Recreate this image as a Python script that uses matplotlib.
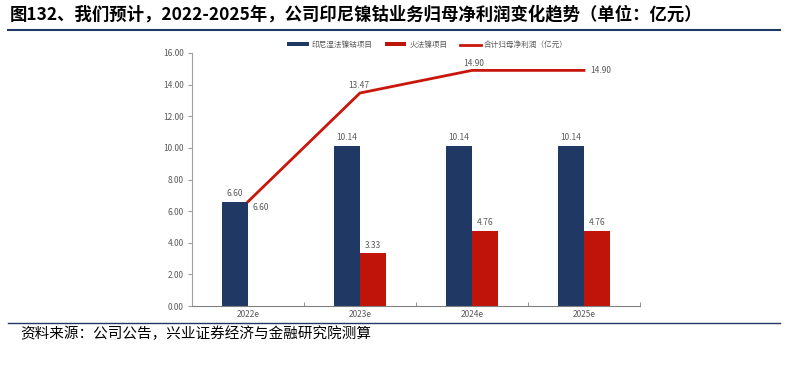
import matplotlib
matplotlib.use("Agg")
import matplotlib.pyplot as plt
import numpy as np

plt.rcParams['font.family'] = ['Noto Sans CJK SC', 'DejaVu Sans']

years = ["2022e", "2023e", "2024e", "2025e"]
wet_nickel = [6.60, 10.14, 10.14, 10.14]      # 印尼湿法镍钴项目
fire_nickel = [0, 3.33, 4.76, 4.76]           # 火法镍项目
total_profit = [6.60, 13.47, 14.90, 14.90]    # 合计归母净利润
y_ticks = [0, 2, 4, 6, 8, 10, 12, 14, 16]

navy = '#1F3864'
red_bar = '#C0140A'
red_line = '#C8160C'
gray = '#595959'

fig = plt.figure(figsize=(7.88, 3.65), dpi=100)
ax = fig.add_axes([192 / 788, 1 - 306 / 365, 448 / 788, 253 / 365])

x = np.arange(len(years))
w = 0.235
b1 = ax.bar(x - w / 2, wet_nickel, w, color=navy, label='印尼湿法镍钴项目', zorder=2)
b2 = ax.bar(x + w / 2, fire_nickel, w, color=red_bar, label='火法镍项目', zorder=2)
l1, = ax.plot(x, total_profit, color=red_line, lw=2, label='合计归母净利润（亿元）', zorder=3)

for i in range(len(years)):
    ax.annotate(f"{wet_nickel[i]:.2f}", (x[i] - w / 2, wet_nickel[i]), textcoords='offset points',
                xytext=(0, 6), ha='center', va='center', fontsize=6, color=gray)
    if fire_nickel[i] > 0:
        ax.annotate(f"{fire_nickel[i]:.2f}", (x[i] + w / 2, fire_nickel[i]), textcoords='offset points',
                    xytext=(0, 6), ha='center', va='center', fontsize=6, color=gray)

# line labels
offsets = [(9, -4), (-1, 5.5), (1, 5), (12, 0)]
for i, (dx, dy) in enumerate(offsets):
    ax.annotate(f"{total_profit[i]:.2f}", (x[i], total_profit[i]), textcoords='offset points',
                xytext=(dx, dy), ha='center', va='center', fontsize=6, color=gray)

ax.set_xlim(-0.5, len(years) - 0.5)
ax.set_ylim(0, 16)
ax.set_yticks(y_ticks)
ax.set_yticklabels([f"{v:.2f}" for v in y_ticks], fontsize=6, color=gray)
ax.set_xticks(x)
ax.set_xticklabels(years, fontsize=6, color=gray)
ax.set_xticks(np.arange(len(years) + 1) - 0.5, minor=True)
ax.tick_params(axis='x', which='major', length=0, pad=3)
ax.tick_params(axis='x', which='minor', length=3, color='#808080', direction='in')
ax.tick_params(axis='y', length=3, color='#A0A0A0', direction='out', pad=3)
for s in ['top', 'right']:
    ax.spines[s].set_visible(False)
ax.spines['left'].set_color('#A0A0A0')
ax.spines['bottom'].set_color('#808080')

ax.legend([b1, b2, l1], [b1.get_label(), b2.get_label(), l1.get_label()],
          loc='center', bbox_to_anchor=(0.526, 1 + 8 / 253), ncol=3, frameon=False,
          fontsize=5.5, labelcolor=gray, handlelength=2.8, handleheight=0.45,
          columnspacing=1.6, handletextpad=0.4)

fig.text(10 / 788, 1 - 14 / 365, "图132、我们预计，2022-2025年，公司印尼镍钴业务归母净利润变化趋势（单位：亿元）",
         fontsize=12.5, fontweight='bold', va='center', ha='left', color='black')
fig.add_artist(plt.Line2D([8 / 788, 780 / 788], [1 - 30 / 365, 1 - 30 / 365],
                          color=navy, lw=1.5))
fig.add_artist(plt.Line2D([8 / 788, 780 / 788], [1 - 323 / 365, 1 - 323 / 365],
                          color=navy, lw=1.0))
fig.text(20 / 788, 1 - 334 / 365, "资料来源：公司公告，兴业证券经济与金融研究院测算",
         fontsize=10.5, va='center', ha='left', color='black')

fig.savefig("out.png", dpi=100)
